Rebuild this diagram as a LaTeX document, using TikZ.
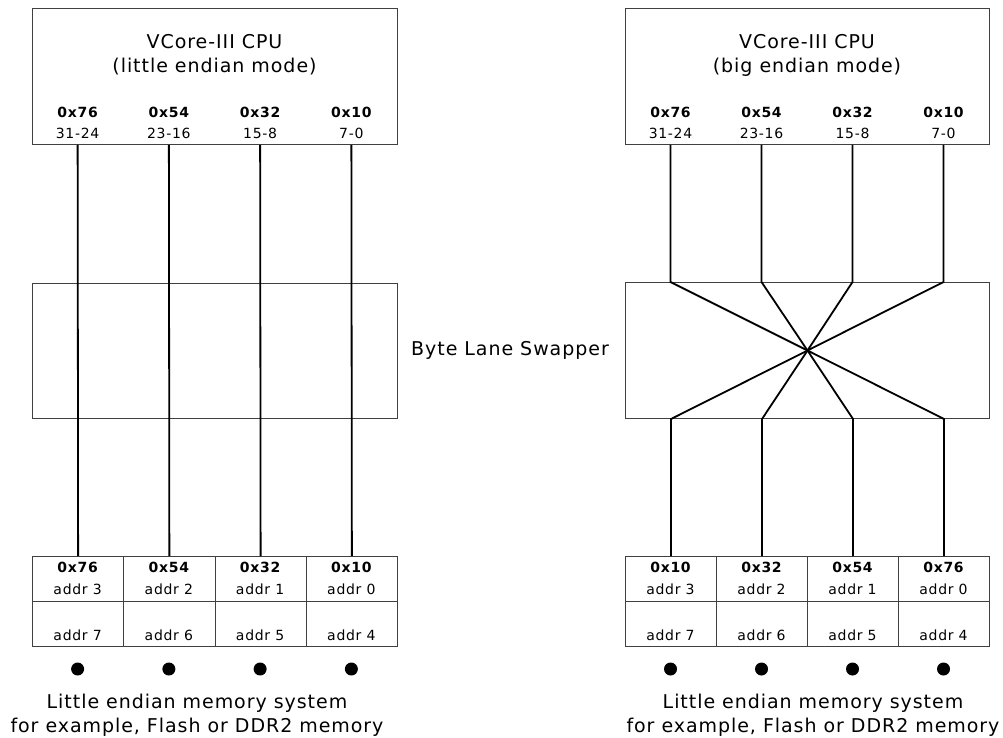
\documentclass[tikz,border=0pt]{standalone}
\usepackage{fontspec}
\setmainfont{DejaVu Sans}[LetterSpace=5]
\begin{document}
\begin{tikzpicture}[x=1pt,y=-1pt,
  box/.style={draw=black!75, line width=1pt, inner sep=0pt, anchor=north west},
  cell/.style={box, minimum width=91.25pt, minimum height=45pt},
  wire/.style={line width=1.8pt, black},
  big/.style={font=\fontsize{19}{23}\selectfont, inner sep=0pt},
  small/.style={font=\fontsize{14}{17}\selectfont, inner sep=0pt},
  hex/.style={font=\fontsize{14}{17}\selectfont\bfseries, inner sep=0pt},
  memdot/.style={circle, fill=black, minimum size=13pt, inner sep=0pt}]
\useasboundingbox (0,0) rectangle (1003,738);

% ---------- left side ----------
\node[box, minimum width=365pt, minimum height=136pt] (cpuL) at (32,8) {};
\node[box, minimum width=365pt, minimum height=135pt] (swL) at (32,283) {};
\node[big] (tL1) at (214.5,42) {VCore-III CPU};
\node[big] (tL2) at (214.5,67) {(little endian mode)};

\foreach \i/\h/\b/\a/\c in {1/0x76/31-24/3/7, 2/0x54/23-16/2/6, 3/0x32/15-8/1/5, 4/0x10/7-0/0/4}{
  \pgfmathsetmacro{\xx}{32+(\i-1)*91.25}
  \pgfmathsetmacro{\xc}{\xx+45.625}
  \node[hex] (hL\i) at (\xc,112) {\h};
  \node[small] (bL\i) at (\xc,133) {\b};
  \node[cell] (mL\i) at (\xx,556) {};
  \node[cell] (nL\i) at (\xx,601) {};
  \node[hex] (mhL\i) at (\xc,567) {\h};
  \node[small] (maL\i) at (\xc,589) {addr \a};
  \node[small] (mcL\i) at (\xc,635) {addr \c};
  \node[memdot] (dL\i) at (\xc,669) {};
  \draw[wire] (bL\i |- cpuL.south) -- (mL\i.north);
}
\node[big] (lmL1) at (197,703) {Little endian memory system};
\node[big] (lmL2) at (197,727) {for example, Flash or DDR2 memory};

\node[big] (swlab) at (510,350) {Byte Lane Swapper};

% ---------- right side ----------
\node[box, minimum width=364pt, minimum height=136pt] (cpuR) at (625,8) {};
\node[box, minimum width=364pt, minimum height=136pt] (swR) at (625,282) {};
\node[big] (tR1) at (807,42) {VCore-III CPU};
\node[big] (tR2) at (807,67) {(big endian mode)};

\foreach \i/\h/\b/\m/\a/\c in {1/0x76/31-24/0x10/3/7, 2/0x54/23-16/0x32/2/6, 3/0x32/15-8/0x54/1/5, 4/0x10/7-0/0x76/0/4}{
  \pgfmathsetmacro{\xx}{625+(\i-1)*91}
  \pgfmathsetmacro{\xc}{\xx+45.5}
  \node[hex] (hR\i) at (\xc,112) {\h};
  \node[small] (bR\i) at (\xc,133) {\b};
  \node[cell, minimum width=91pt] (mR\i) at (\xx,556) {};
  \node[cell, minimum width=91pt] (nR\i) at (\xx,601) {};
  \node[hex] (mhR\i) at (\xc,567) {\m};
  \node[small] (maR\i) at (\xc,589) {addr \a};
  \node[small] (mcR\i) at (\xc,635) {addr \c};
  \node[memdot] (dR\i) at (\xc,669) {};
}
\foreach \i/\j in {1/4, 2/3, 3/2, 4/1}{
  \draw[wire] (bR\i |- cpuR.south) -- (bR\i |- swR.north) -- (swR.center)
    -- (mR\j.north |- swR.south) -- (mR\j.north);
}
\node[big] (lmR1) at (813,703) {Little endian memory system};
\node[big] (lmR2) at (813,727) {for example, Flash or DDR2 memory};
\end{tikzpicture}
\end{document}
